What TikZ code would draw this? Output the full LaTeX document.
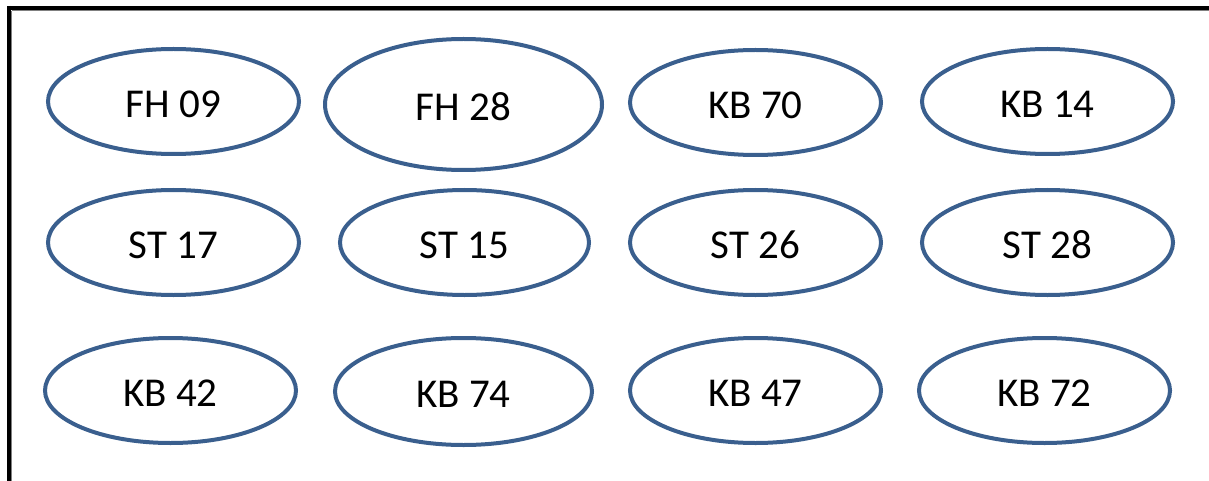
\documentclass[tikz,border=0pt]{standalone}
\usepackage{fontspec}
\setmainfont{Carlito}
\usetikzlibrary{shapes.geometric}
\definecolor{ringblue}{HTML}{3A5F8E}
\definecolor{frameshade}{HTML}{808080}
\begin{document}
\begin{tikzpicture}[x=1pt,y=-1pt,
  oval/.style={draw=ringblue, line width=4pt, ellipse, inner sep=0pt,
    font=\fontsize{41}{44}\selectfont, text=black,
    text height=32pt, text depth=0pt},
  ovalA/.style={oval, minimum width=251pt, minimum height=105pt}]
  \useasboundingbox (0,0) rectangle (1209,481);
  % frame: top and left edges with a faint inner shade
  \draw[frameshade, line width=1.2pt] (11.5,10.8) -- (1209,10.8);
  \draw[frameshade, line width=1.2pt] (11.8,10.8) -- (11.8,481);
  \draw[black, line width=4pt] (7,8) -- (1209,8);
  \draw[black, line width=4pt] (9,6) -- (9,481);
  % first row
  \node[ovalA] (fh09) at (173.5,101.5) {FH 09};
  \node[oval, minimum width=277pt, minimum height=131pt] (fh28) at (463.5,104.5) {FH 28};
  \node[ovalA] (kb70) at (755.5,102.5) {KB 70};
  \node[ovalA] (kb14) at (1047.5,101.5) {KB 14};
  % second row
  \node[ovalA] (st17) at (173.5,242.5) {ST 17};
  \node[oval, minimum width=249pt, minimum height=105pt] (st15) at (464.5,242.5) {ST 15};
  \node[ovalA] (st26) at (755.5,242.5) {ST 26};
  \node[ovalA] (st28) at (1047.5,242.5) {ST 28};
  % third row
  \node[ovalA] (kb42) at (170.5,390.5) {KB 42};
  \node[oval, minimum width=257pt, minimum height=107pt] (kb74) at (463.5,391.5) {KB 74};
  \node[ovalA] (kb47) at (755.5,390.5) {KB 47};
  \node[ovalA] (kb72) at (1044.5,390.5) {KB 72};
\end{tikzpicture}
\end{document}
